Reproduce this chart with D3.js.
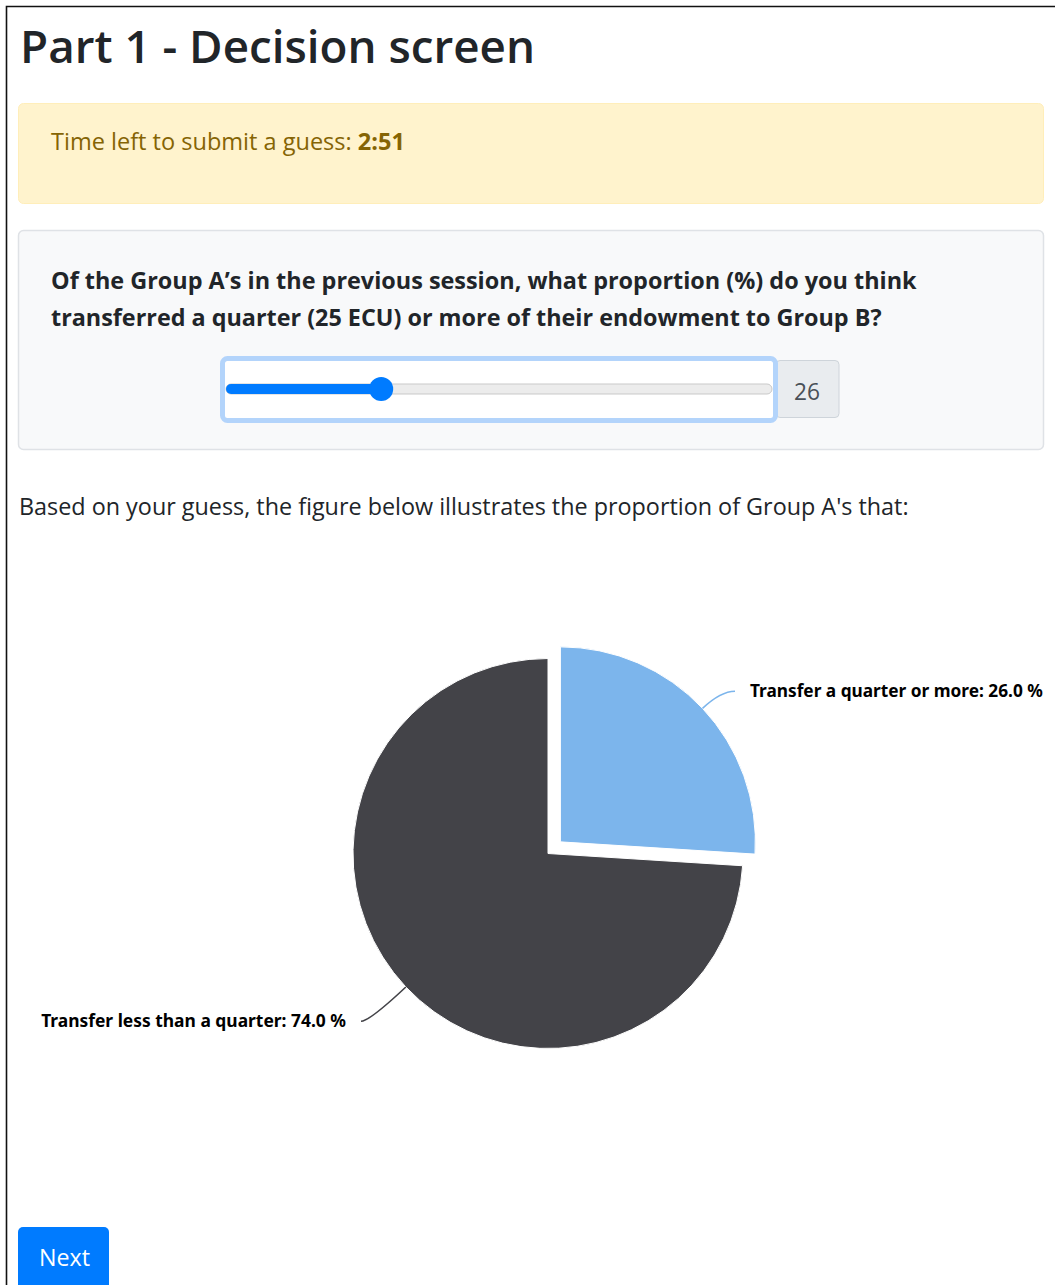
<!DOCTYPE html>
<html>
<head>
<meta charset="utf-8">
<title>Part 1 - Decision screen</title>
<script src="https://cdn.jsdelivr.net/npm/d3@7"></script>
<style>
  html, body { margin: 0; padding: 0; background: #fff; }
  svg { display: block; }
</style>
</head>
<body>
<div id="page"></div>
<script>
// ---- data ----
const sliceNames = ["Transfer a quarter or more", "Transfer less than a quarter"];
const sliceValues = [26.0, 74.0];
const sliceColors = ["#7cb5ec", "#434348"];
const guessValue = 26;          // slider position (percent)
const sliderDomain = [0, 100];
const timeLeft = "2:51";

// ---- page ----
const W = 1055, H = 1285;
const svg = d3.select("#page").append("svg")
  .attr("width", W).attr("height", H)
  .attr("viewBox", `0 0 ${W} ${H}`);

const pageFont = "'Open Sans', 'Noto Sans', sans-serif";

// scale a text element's font-size so that its rendered width equals `target`
function fitWidth(sel, target) {
  const w = sel.node().getComputedTextLength();
  const fs = parseFloat(sel.attr("font-size"));
  sel.attr("font-size", (fs * target / w).toFixed(2));
  return sel;
}

// window frame
svg.append("path")
  .attr("d", `M6.5,${H} V6.5 H${W}`)
  .attr("fill", "none").attr("stroke", "#111").attr("stroke-width", 1.6);

// heading
fitWidth(svg.append("text")
  .attr("x", 20).attr("y", 63)
  .attr("font-family", pageFont).attr("font-weight", 600)
  .attr("font-size", 46).attr("fill", "#212529")
  .text("Part 1 - Decision screen"), 515);

// timer alert
svg.append("rect")
  .attr("x", 18.5).attr("y", 103.5).attr("width", 1025).attr("height", 100)
  .attr("rx", 5).attr("fill", "#fff3cd").attr("stroke", "#ffeeba");
const alertText = svg.append("text")
  .attr("x", 51).attr("y", 150)
  .attr("font-family", pageFont).attr("font-size", 22).attr("fill", "#856404");
alertText.append("tspan").text("Time left to submit a guess: ");
alertText.append("tspan").attr("font-weight", 700).text(timeLeft);
fitWidth(alertText, 354);

// question card
svg.append("rect")
  .attr("x", 18.5).attr("y", 230.5).attr("width", 1025).attr("height", 219)
  .attr("rx", 5).attr("fill", "#f8f9fa").attr("stroke", "#dfe2e6").attr("stroke-width", 1.5);
const qLines = [
  { t: "Of the Group A\u2019s in the previous session, what proportion (%) do you think", y: 289, w: 866 },
  { t: "transferred a quarter (25 ECU) or more of their endowment to Group B?", y: 326, w: 831 }
];
qLines.forEach(l => {
  fitWidth(svg.append("text")
    .attr("x", 51).attr("y", l.y)
    .attr("font-family", pageFont).attr("font-weight", 700)
    .attr("font-size", 22).attr("fill", "#212529")
    .text(l.t), l.w);
});

// slider with value add-on
const slider = svg.append("g");
slider.append("rect")
  .attr("x", 776).attr("y", 360.5).attr("width", 63).attr("height", 57)
  .attr("rx", 4).attr("fill", "#e9ecef").attr("stroke", "#ced4da");
fitWidth(slider.append("text")
  .attr("x", 794).attr("y", 400)
  .attr("font-family", pageFont).attr("font-size", 22).attr("fill", "#495057")
  .text(String(guessValue)), 26);
slider.append("rect")
  .attr("x", 222.5).attr("y", 358.5).attr("width", 553).attr("height", 62)
  .attr("rx", 5).attr("fill", "#fff").attr("stroke", "#b3d4fb").attr("stroke-width", 5);

const trackX0 = 226, trackX1 = 772, trackY = 389, thumbR = 12;
const sx = d3.scaleLinear().domain(sliderDomain).range([trackX0 + thumbR + 8, trackX1 - thumbR + 6]);
slider.append("rect")
  .attr("x", trackX0).attr("y", trackY - 5).attr("width", trackX1 - trackX0).attr("height", 10)
  .attr("rx", 5).attr("fill", "#ececec").attr("stroke", "#c9c9c9");
slider.append("rect")
  .attr("x", trackX0).attr("y", trackY - 5).attr("width", sx(guessValue) - trackX0).attr("height", 10)
  .attr("rx", 5).attr("fill", "#007bff");
slider.append("circle")
  .attr("cx", sx(guessValue)).attr("cy", trackY).attr("r", thumbR)
  .attr("fill", "#007bff");

// intro sentence
fitWidth(svg.append("text")
  .attr("x", 19).attr("y", 515)
  .attr("font-family", pageFont).attr("font-size", 22).attr("fill", "#212529")
  .text("Based on your guess, the figure below illustrates the proportion of Group A's that:"), 890);

// ---- pie chart ----
const cx = 548, cy = 853.5, R = 195;
const slicedIndex = 0, slicedOffset = 17;
const labelDistance = [25, 50];
const labelGap = 7;

const pie = d3.pie().sort(null).value(i => sliceValues[i]);
const arcs = pie(d3.range(sliceValues.length));
const arc = d3.arc().innerRadius(0).outerRadius(R);

const chart = svg.append("g").attr("transform", `translate(${cx},${cy})`);

arcs.forEach((a, i) => {
  const mid = (a.startAngle + a.endAngle) / 2;
  const off = i === slicedIndex ? slicedOffset : 0;
  const ox = off * Math.sin(mid), oy = -off * Math.cos(mid);
  const g = chart.append("g").attr("transform", `translate(${ox},${oy})`);
  g.append("path").attr("d", arc(a)).attr("fill", sliceColors[i]).attr("stroke", "#fff").attr("stroke-width", 1);

  // label + curved connector
  const sin = Math.sin(mid), cos = Math.cos(mid);
  const side = sin >= 0 ? 1 : -1;
  const px = ox + R * sin, py = oy - R * cos;                 // edge point
  const ly = oy - (R + labelDistance[i]) * cos;                  // label centre line
  const kx = px + (ly - py) * (sin / -cos);                      // where radial line meets label line
  const textX = side * (R + labelGap);
  const endX = textX - side * 15;
  chart.append("path")
    .attr("d", `M${px},${py} Q${kx},${ly} ${endX},${ly}`)
    .attr("fill", "none").attr("stroke", sliceColors[i]).attr("stroke-width", 1.6);

  const lbl = chart.append("text")
    .attr("x", textX).attr("y", ly).attr("dy", "0.36em")
    .attr("text-anchor", side > 0 ? "start" : "end")
    .attr("font-family", "'Noto Sans', 'DejaVu Sans', sans-serif")
    .attr("font-weight", 700).attr("font-size", 15).attr("fill", "#000")
    .attr("stroke", "#fff").attr("stroke-width", 2).attr("paint-order", "stroke")
    .text(`${sliceNames[i]}: ${sliceValues[i].toFixed(1)} %`);
  fitWidth(lbl, i === 0 ? 293 : 305);
});

// next button
svg.append("rect")
  .attr("x", 18).attr("y", 1227).attr("width", 91).attr("height", 66)
  .attr("rx", 5).attr("fill", "#007bff");
fitWidth(svg.append("text")
  .attr("x", 39).attr("y", 1266)
  .attr("font-family", pageFont).attr("font-size", 22).attr("fill", "#fff")
  .text("Next"), 51);
</script>
</body>
</html>
